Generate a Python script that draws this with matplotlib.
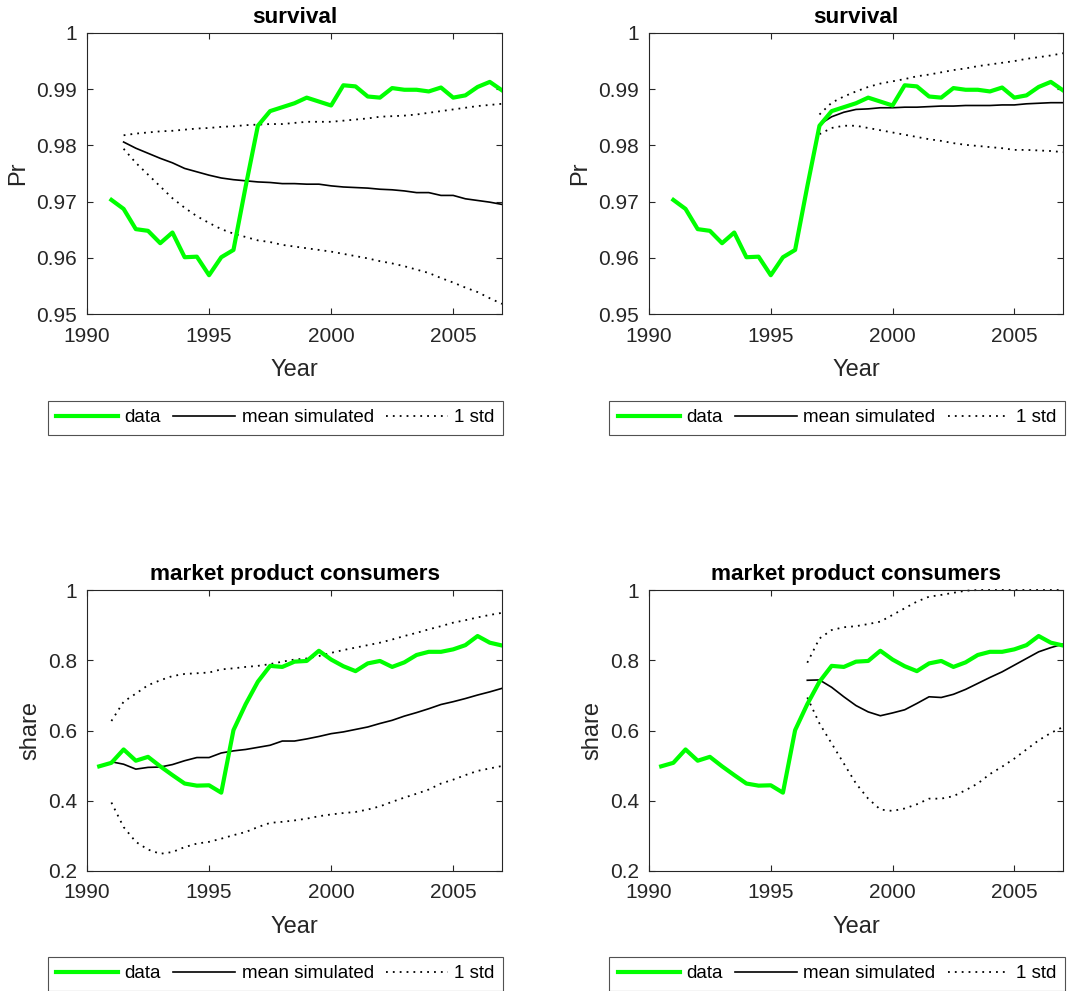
import matplotlib
matplotlib.use("Agg")
import matplotlib.pyplot as plt
import numpy as np

plt.rcParams['font.family'] = ['Liberation Sans', 'DejaVu Sans']

# half-year time grid
years_data_surv = np.arange(1991.0, 2007.01, 0.5)
years_sim_left = np.arange(1991.5, 2007.01, 0.5)
years_sim_right = np.arange(1997.0, 2007.01, 0.5)
years_data_mkt = np.arange(1990.5, 2007.01, 0.5)
years_mkt_left = np.arange(1991.0, 2007.01, 0.5)
years_mkt_right = np.arange(1996.5, 2007.01, 0.5)

# survival, data
surv_data = [0.9703, 0.9687, 0.9651, 0.9648, 0.9626, 0.9645, 0.9601, 0.9602, 0.9569, 0.9601,
             0.9614, 0.9727, 0.9835, 0.9861, 0.9868, 0.9875, 0.9885, 0.9878, 0.9871, 0.9907,
             0.9905, 0.9887, 0.9885, 0.9902, 0.9899, 0.9899, 0.9896, 0.9903, 0.9885, 0.9889,
             0.9904, 0.9913, 0.9898]

# survival, simulation (left panel)
surv_mean_l = [0.9806, 0.9795, 0.9786, 0.9777, 0.9769, 0.9759, 0.9753, 0.9747, 0.9742, 0.9739,
               0.9737, 0.9735, 0.9734, 0.9732, 0.9732, 0.9731, 0.9731, 0.9728, 0.9726, 0.9725,
               0.9724, 0.9722, 0.9721, 0.9719, 0.9716, 0.9716, 0.9711, 0.9711, 0.9705, 0.9702,
               0.9699, 0.9695]
surv_up_l = [0.9818, 0.9821, 0.9823, 0.9825, 0.9826, 0.9828, 0.9830, 0.9831, 0.9833, 0.9834,
             0.9836, 0.9837, 0.9838, 0.9838, 0.9840, 0.9842, 0.9842, 0.9842, 0.9844, 0.9846,
             0.9848, 0.9851, 0.9852, 0.9853, 0.9855, 0.9858, 0.9861, 0.9864, 0.9867, 0.9870,
             0.9872, 0.9874]
surv_lo_l = [0.9794, 0.9769, 0.9748, 0.9727, 0.9706, 0.9689, 0.9674, 0.9662, 0.9651, 0.9643,
             0.9637, 0.9631, 0.9628, 0.9623, 0.9620, 0.9617, 0.9614, 0.9611, 0.9607, 0.9603,
             0.9599, 0.9594, 0.9590, 0.9585, 0.9579, 0.9573, 0.9564, 0.9556, 0.9547, 0.9539,
             0.9528, 0.9518]

# survival, simulation (right panel)
surv_mean_r = [0.9837, 0.9851, 0.9859, 0.9864, 0.9865, 0.9867, 0.9867, 0.9868, 0.9868, 0.9869,
               0.9870, 0.9870, 0.9871, 0.9871, 0.9871, 0.9872, 0.9872, 0.9874, 0.9875, 0.9876,
               0.9876]
surv_up_r = [0.9855, 0.9876, 0.9887, 0.9896, 0.9904, 0.9910, 0.9914, 0.9918, 0.9923, 0.9926,
             0.9930, 0.9934, 0.9937, 0.9941, 0.9944, 0.9947, 0.9950, 0.9954, 0.9957, 0.9960,
             0.9964]
surv_lo_r = [0.9820, 0.9831, 0.9835, 0.9835, 0.9831, 0.9827, 0.9823, 0.9819, 0.9815, 0.9811,
             0.9808, 0.9804, 0.9801, 0.9799, 0.9797, 0.9795, 0.9792, 0.9792, 0.9791, 0.9790,
             0.9788]

# market product consumers, data
mkt_data = [0.498, 0.508, 0.546, 0.514, 0.525, 0.498, 0.473, 0.449, 0.443, 0.444,
            0.423, 0.601, 0.675, 0.739, 0.784, 0.781, 0.796, 0.798, 0.827, 0.802,
            0.783, 0.769, 0.791, 0.798, 0.781, 0.794, 0.815, 0.824, 0.824, 0.831,
            0.843, 0.869, 0.850, 0.842]

# market, simulation (left panel)
mkt_mean_l = [0.511, 0.504, 0.490, 0.495, 0.496, 0.503, 0.514, 0.523, 0.523, 0.536,
              0.542, 0.546, 0.552, 0.558, 0.570, 0.570, 0.576, 0.583, 0.591, 0.596,
              0.603, 0.610, 0.620, 0.629, 0.641, 0.651, 0.662, 0.674, 0.682, 0.691,
              0.701, 0.710, 0.720]
mkt_up_l = [0.627, 0.682, 0.705, 0.729, 0.743, 0.755, 0.761, 0.763, 0.765, 0.774,
            0.777, 0.781, 0.784, 0.789, 0.796, 0.802, 0.805, 0.812, 0.821, 0.829,
            0.836, 0.843, 0.850, 0.859, 0.869, 0.878, 0.888, 0.897, 0.907, 0.914,
            0.922, 0.929, 0.935]
mkt_lo_l = [0.395, 0.325, 0.283, 0.261, 0.249, 0.254, 0.268, 0.278, 0.283, 0.292,
            0.302, 0.311, 0.325, 0.337, 0.340, 0.344, 0.349, 0.356, 0.361, 0.365,
            0.368, 0.375, 0.384, 0.397, 0.409, 0.420, 0.432, 0.449, 0.460, 0.473,
            0.485, 0.492, 0.499]

# market, simulation (right panel)
mkt_mean_r = [0.743, 0.744, 0.723, 0.696, 0.671, 0.653, 0.642, 0.650, 0.659, 0.677,
              0.696, 0.694, 0.703, 0.717, 0.734, 0.751, 0.767, 0.786, 0.805, 0.824,
              0.836, 0.846]
mkt_up_r = [0.793, 0.862, 0.886, 0.894, 0.897, 0.903, 0.910, 0.929, 0.948, 0.967,
            0.981, 0.986, 0.992, 0.998, 1.0, 1.0, 1.0, 1.0, 1.0, 1.0,
            1.0, 1.0]
mkt_lo_r = [0.694, 0.620, 0.563, 0.506, 0.449, 0.406, 0.375, 0.371, 0.378, 0.390,
            0.406, 0.406, 0.413, 0.430, 0.449, 0.476, 0.497, 0.520, 0.546, 0.572,
            0.593, 0.610]

W, H = 1083, 991
fig = plt.figure(figsize=(W / 100, H / 100), dpi=100)
gray = '#262626'


def add_axes(x0, y0, x1, y1):
    return fig.add_axes([x0 / W, 1 - y1 / H, (x1 - x0) / W, (y1 - y0) / H])


def panel(ax, xd, yd, xs, mean, up, lo, title, ylabel, yticks, ylabels, leg_box):
    ax.plot(xd, yd, color='#00ff00', lw=3.0, label='data', zorder=3)
    ax.plot(xs, mean, color='k', lw=1.2, label='mean simulated')
    ax.plot(xs, up, color='k', lw=1.3, ls=(0, (1, 2.8)), label='1 std', clip_on=False)
    ax.plot(xs, lo, color='k', lw=1.3, ls=(0, (1, 2.8)), clip_on=False)
    ax.set_xlim(1990, 2007)
    ax.set_ylim(yticks[0], yticks[-1])
    ax.set_xticks([1990, 1995, 2000, 2005])
    ax.set_yticks(yticks)
    ax.set_yticklabels(ylabels)
    ax.tick_params(direction='in', top=True, right=True, labelsize=15,
                   colors=gray, length=4, width=0.8)
    ax.tick_params(axis='x', pad=9)
    ax.tick_params(axis='y', pad=7)
    for s in ax.spines.values():
        s.set_color(gray)
        s.set_linewidth(0.8)
    ax.set_title(title, fontsize=16.2, fontweight='bold', pad=7)
    ax.set_xlabel('Year', fontsize=17, color=gray, labelpad=10)
    ax.set_ylabel(ylabel, fontsize=17, color=gray, labelpad=5)
    x0, y0, x1, y1 = leg_box
    leg = ax.legend(loc='center', ncol=3, fontsize=13.5, frameon=True, fancybox=False,
                    bbox_to_anchor=(((x0 + x1) / 2) / W, 1 - ((y0 + y1) / 2) / H),
                    bbox_transform=fig.transFigure, handlelength=3.3,
                    columnspacing=0.65, handletextpad=0.35, borderpad=0.45,
                    borderaxespad=0)
    leg.get_frame().set_edgecolor(gray)
    leg.get_frame().set_linewidth(0.8)


surv_ticks = [0.95, 0.96, 0.97, 0.98, 0.99, 1.0]
surv_labels = ['0.95', '0.96', '0.97', '0.98', '0.99', '1']
mkt_ticks = [0.2, 0.4, 0.6, 0.8, 1.0]
mkt_labels = ['0.2', '0.4', '0.6', '0.8', '1']

ax1 = add_axes(87, 33, 502, 314)
panel(ax1, years_data_surv, surv_data, years_sim_left, surv_mean_l, surv_up_l, surv_lo_l,
      'survival', 'Pr', surv_ticks, surv_labels, (49, 401, 502, 434))

ax2 = add_axes(649, 33, 1063, 314)
panel(ax2, years_data_surv, surv_data, years_sim_right, surv_mean_r, surv_up_r, surv_lo_r,
      'survival', 'Pr', surv_ticks, surv_labels, (611, 401, 1063, 434))

ax3 = add_axes(87, 590, 502, 871)
panel(ax3, years_data_mkt, mkt_data, years_mkt_left, mkt_mean_l, mkt_up_l, mkt_lo_l,
      'market product consumers', 'share', mkt_ticks, mkt_labels, (49, 957, 502, 990))

ax4 = add_axes(649, 590, 1063, 871)
panel(ax4, years_data_mkt, mkt_data, years_mkt_right, mkt_mean_r, mkt_up_r, mkt_lo_r,
      'market product consumers', 'share', mkt_ticks, mkt_labels, (611, 957, 1063, 990))

fig.savefig('out.png', dpi=100, facecolor='white')
